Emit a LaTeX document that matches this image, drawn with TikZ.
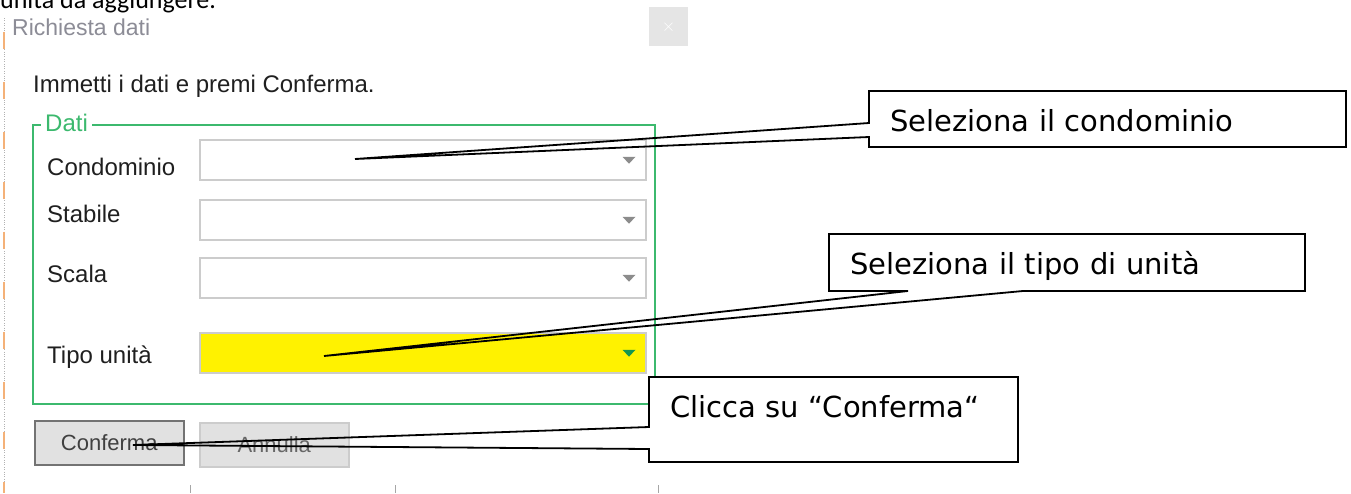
\documentclass[tikz,border=0pt]{standalone}
\usepackage{fontspec}
\setmainfont{DejaVu Sans}
\newfontfamily\dlgfont{Liberation Sans}
\newfontfamily\docfont{Carlito}
\usetikzlibrary{calc, positioning}

\definecolor{verdegruppo}{RGB}{60,185,110}
\definecolor{grigiobordo}{RGB}{204,204,204}
\definecolor{grigiobottone}{RGB}{225,225,225}
\definecolor{grigiotitolo}{RGB}{140,140,150}
\definecolor{arancio}{RGB}{244,177,120}
\definecolor{verdefreccia}{RGB}{20,150,80}

\tikzset{
  combo/.style={draw=grigiobordo, line width=1.5pt, fill=#1, minimum width=446pt,
    minimum height=40pt, anchor=north west, inner sep=0pt},
  etichetta/.style={font=\dlgfont\fontsize{24}{28}\selectfont, text=black!88,
    anchor=base west, inner sep=0pt},
  bottone/.style={line width=1.5pt, fill=grigiobottone, minimum width=149pt,
    minimum height=44pt, anchor=north west, inner sep=0pt,
    font=\dlgfont\fontsize{22}{26}\selectfont},
  richiamo/.style={fill=white, anchor=north west, inner xsep=21pt, inner ysep=0pt,
    outer sep=0pt, text height=40pt, font=\fontsize{29}{35}\selectfont},
  bordo/.style={line width=1.8pt, line join=miter},
}

\begin{document}
\begin{tikzpicture}[x=1pt, y=-1pt]
\useasboundingbox (0,0) rectangle (1351,493);
% testo sopra
\node[font=\docfont\fontsize{26}{30}\selectfont, anchor=base west, inner sep=0pt] (intro) at (0,8) {unità da aggiungere.};
% Finestra
\draw[gray!60, dotted] (4,18) -- (4,493);
\draw[arancio, line width=1.3pt, dash pattern=on 17pt off 33pt] (4,32) -- (4,493);
\node[font=\dlgfont\fontsize{23}{27}\selectfont, text=grigiotitolo, anchor=base west, inner sep=0pt] (titolo) at (12,35) {Richiesta dati};
\node[fill=gray!20, minimum width=39pt, minimum height=39pt, inner sep=0pt, anchor=north west,
  text=white, font=\dlgfont\fontsize{16}{16}\selectfont] (chiudi) at (649,7) {$\times$};
\node[etichetta] (istruz) at (33,92) {Immetti i dati e premi Conferma.};
% Gruppo Dati
\draw[verdegruppo, line width=1.5pt] (33,125) rectangle (655,404);
\node[etichetta, fill=white, inner xsep=4pt, text=verdegruppo] (dati) at (41,131) {Dati};
\foreach \nome/\y/\testo/\base in {cond/139/Condominio/175, stab/199/Stabile/222, scal/257/Scala/282} {
  \node[combo=white] (\nome) at (199,\y) {};
  \node[etichetta] (l\nome) at (47,\base) {\testo};
  \fill[gray!90] ($(\nome.east)+(-24,-3)$) -- ++(13,0) -- ++(-6.5,7) -- cycle;
}
\node[combo=yellow] (tipo) at (199,332) {};
\node[etichetta] (ltipo) at (47,363) {Tipo unità};
\fill[verdefreccia] ($(tipo.east)+(-24,-3)$) -- ++(13,0) -- ++(-6.5,7) -- cycle;
% Bottoni
\node[bottone, draw=gray!110, text=black!75] (conferma) at (34,420) {Conferma};
\node[bottone, draw=grigiobordo, text=black!60] (annulla) at (199,422) {Annulla};
\foreach \x in {190, 395, 658} {
  \draw[gray!70, line width=1pt] (\x,485) -- (\x,493);
}
% Richiami
\coordinate (p1) at (355,159);
\coordinate (p2) at (324,356);
\coordinate (p3) at (133,445);
\node[richiamo, text width=435pt, text depth=16pt] (r1) at (869,91) {Seleziona il condominio};
\node[richiamo, text width=434pt, text depth=17pt] (r2) at (829,234) {Seleziona il tipo di unità};
\node[richiamo, text width=327pt, text depth=45pt] (r3) at (649,377) {Clicca su “Conferma“};
\draw[bordo] (r1.south west) -- ++(0,-10) -- (p1) -- ($(r1.north west)+(0,32)$) -- (r1.north west)
  -- (r1.north east) -- (r1.south east) -- cycle;
\draw[bordo] ($(r2.south west)+(79,0)$) -- (r2.south west) -- (r2.north west) -- (r2.north east)
  -- (r2.south east) -- ($(r2.south west)+(194,0)$) -- (p2) -- cycle;
\draw[bordo] (r3.south west) -- ++(0,-13) -- (p3) -- ($(r3.north west)+(0,50)$) -- (r3.north west)
  -- (r3.north east) -- (r3.south east) -- cycle;
\end{tikzpicture}
\end{document}
